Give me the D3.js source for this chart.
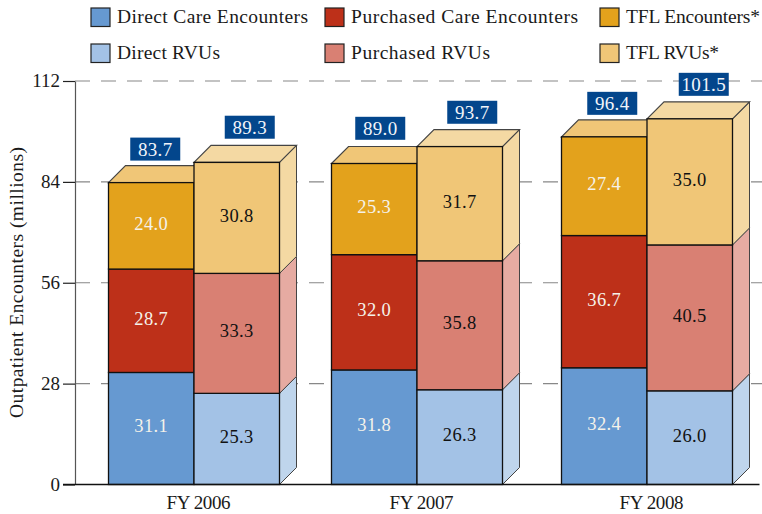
<!DOCTYPE html>
<html lang="en">
<head>
  <meta charset="UTF-8">
  <title>Outpatient Encounters</title>
  <script src="https://d3js.org/d3.v7.min.js"></script>
  <style>
    html, body { margin: 0; padding: 0; background: #fff; }
    svg { display: block; }
    text {
      font-family: 'Liberation Serif', serif;
      font-size: 19.5px;
      fill: #1a1a1a;
    }
    .value { font-size: 18.5px; letter-spacing: 0.35px; }
    .total { font-size: 19px; letter-spacing: 0.35px; fill: #f2f5fa; }
    .tick text { font-size: 19px; }
  </style>
</head>
<body>
  <svg id="chart" width="762" height="514"></svg>

  <script>
    const years = ["FY 2006", "FY 2007", "FY 2008"];
    const yTicks = [0, 28, 56, 84, 112];

    const directEncounters = [31.1, 31.8, 32.4];
    const purchasedEncounters = [28.7, 32.0, 36.7];
    const tflEncounters = [24.0, 25.3, 27.4];
    const directRvus = [25.3, 26.3, 26.0];
    const purchasedRvus = [33.3, 35.8, 40.5];
    const tflRvus = [30.8, 31.7, 35.0];
    const encounterTotals = [83.7, 89.0, 96.4];
    const rvuTotals = [89.3, 93.7, 101.5];

    const legendNames = [
      ["Direct Care Encounters", "Purchased Care Encounters", "TFL Encounters*"],
      ["Direct RVUs", "Purchased RVUs", "TFL RVUs*"]
    ];
    const frontColors = [
      ["#6699d1", "#bd3019", "#e3a21c"],
      ["#a3c2e6", "#d98073", "#f0c677"]
    ];
    const sideColors = ["#bfd5ec", "#e6aba2", "#f4d9a3"];
    const textColors = ["#f5f2ea", "#111"];

    const svg = d3.select("#chart");
    const depth = 17;
    const barWidth = 85.5;
    const axisX = 75;

    const y = d3.scaleLinear().domain([0, 112]).range([484.5, 81]);
    // the groups are not evenly spaced in the original
    const x = d3.scaleOrdinal().domain(years).range([194, 417, 647]);

    // -------- Grid and axes --------
    svg.append("g").selectAll("line")
      .data(yTicks.slice(1))
      .enter()
      .append("line")
      .attr("x1", axisX)
      .attr("x2", 762)
      .attr("y1", d => y(d))
      .attr("y2", d => y(d))
      .attr("stroke", "#888")
      .attr("stroke-width", 1.2)
      .attr("stroke-dasharray", "15 11");

    const yAxis = svg.append("g")
      .attr("transform", `translate(${axisX},0)`)
      .call(d3.axisLeft(y).tickValues(yTicks).tickSize(12).tickSizeOuter(0).tickPadding(3));
    yAxis.select(".domain").attr("stroke", "#555").attr("stroke-width", 1.2);
    yAxis.selectAll("line").attr("stroke", "#222").attr("stroke-width", 1.2);
    yAxis.selectAll("text").attr("dy", "0.3em").attr("fill", "#1a1a1a");

    svg.append("text")
      .attr("transform", "translate(23,282.5) rotate(-90)")
      .attr("text-anchor", "middle")
      .attr("textLength", 271)
      .text("Outpatient Encounters (millions)");

    // -------- Bars --------
    const encounterRows = years.map((year, i) => [directEncounters[i], purchasedEncounters[i], tflEncounters[i]]);
    const rvuRows = years.map((year, i) => [directRvus[i], purchasedRvus[i], tflRvus[i]]);
    const stack = d3.stack().keys([0, 1, 2]);
    const encounterStack = stack(encounterRows);
    const rvuStack = stack(rvuRows);

    function drawBars(layers, kind) {
      const g = svg.append("g");
      years.forEach((year, i) => {
        const left = kind === 0 ? x(year) - barWidth : x(year);
        const right = left + barWidth;
        const top = y(layers[2][i][1]);

        if (kind === 1) {
          layers.forEach((layer, s) => {
            const y0 = y(layer[i][0]);
            const y1 = y(layer[i][1]);
            g.append("path")
              .attr("d", `M${right},${y0}L${right + depth},${y0 - depth}L${right + depth},${y1 - depth}L${right},${y1}Z`)
              .attr("fill", sideColors[s])
              .attr("stroke", "#444")
              .attr("stroke-width", 1);
          });
        }

        g.append("path")
          .attr("d", `M${left},${top}L${left + depth},${top - depth}L${right + depth},${top - depth}L${right},${top}Z`)
          .attr("fill", kind === 0 ? frontColors[1][2] : sideColors[2])
          .attr("stroke", "#444")
          .attr("stroke-width", 1.2);

        layers.forEach((layer, s) => {
          g.append("rect")
            .attr("x", left)
            .attr("y", y(layer[i][1]))
            .attr("width", barWidth)
            .attr("height", y(layer[i][0]) - y(layer[i][1]))
            .attr("fill", frontColors[kind][s])
            .attr("stroke", "#111")
            .attr("stroke-width", 1.3);

          g.append("text")
            .attr("class", "value")
            .attr("x", left + barWidth / 2)
            .attr("y", (y(layer[i][0]) + y(layer[i][1])) / 2 + 4)
            .attr("text-anchor", "middle")
            .style("fill", textColors[kind])
            .text(layer[i].data[s].toFixed(1));
        });
      });
    }

    // boxes sit off-centre and at slightly different heights above each bar
    function drawTotals(layers, totals, kind, shiftX, shiftY) {
      years.forEach((year, i) => {
        const left = kind === 0 ? x(year) - barWidth : x(year);
        const cx = left + barWidth / 2 + shiftX[i];
        const boxTop = y(layers[2][i][1]) - depth - shiftY[i];
        svg.append("rect")
          .attr("x", cx - 25)
          .attr("y", boxTop)
          .attr("width", 50)
          .attr("height", 23)
          .attr("fill", "#03468c");
        svg.append("text")
          .attr("class", "total")
          .attr("x", cx)
          .attr("y", boxTop + 18)
          .attr("text-anchor", "middle")
          .text(totals[i].toFixed(1));
      });
    }

    drawBars(encounterStack, 0);
    drawBars(rvuStack, 1);
    drawTotals(encounterStack, encounterTotals, 0, [4, 6, 8], [28, 29.7, 28]);
    drawTotals(rvuStack, rvuTotals, 1, [13, 12.5, 14], [29.7, 28.8, 29]);

    // baseline goes over the bars
    svg.append("line")
      .attr("x1", 63)
      .attr("x2", 759.5)
      .attr("y1", y(0))
      .attr("y2", y(0))
      .attr("stroke", "#111")
      .attr("stroke-width", 1.3);

    const xAxis = svg.append("g")
      .attr("transform", `translate(4,${y(0)})`)
      .call(d3.axisBottom(x).tickSize(0).tickPadding(11));
    xAxis.select(".domain").remove();
    xAxis.selectAll("text").attr("fill", "#1a1a1a").attr("textLength", 64);

    // -------- Legend --------
    const legendX = [91, 325, 600];
    const legendY = [8, 44];
    const legendTextWidths = [[191, 227, 134], [103, 139, 93]];
    legendNames.forEach((row, r) => {
      row.forEach((name, c) => {
        svg.append("rect")
          .attr("x", legendX[c])
          .attr("y", legendY[r])
          .attr("width", 19)
          .attr("height", 18.5)
          .attr("fill", frontColors[r][c])
          .attr("stroke", "#222")
          .attr("stroke-width", 1.2);
        svg.append("text")
          .attr("x", legendX[c] + 26)
          .attr("y", legendY[r] + 15)
          .attr("textLength", legendTextWidths[r][c])
          .text(name);
      });
    });
  </script>
</body>
</html>
